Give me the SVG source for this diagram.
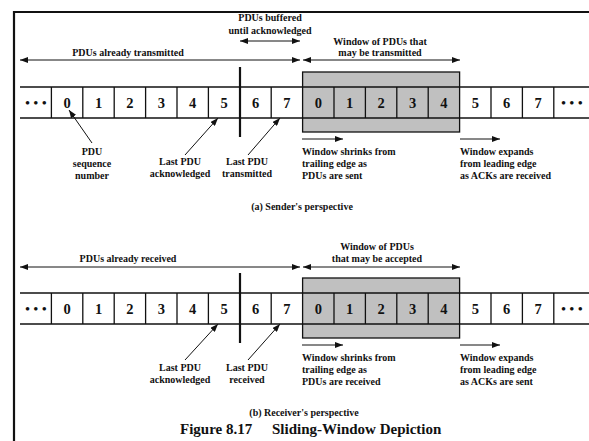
<svg xmlns="http://www.w3.org/2000/svg" width="589" height="441" viewBox="0 0 589 441">
<style>
text{font-family:"Liberation Serif","Times New Roman",serif;font-weight:bold;fill:#111}
.lbl{font-size:10px}
.cap{font-size:10px}
.dig{font-size:14.5px;text-anchor:middle}
.dots{font-size:13px;letter-spacing:0.3px;text-anchor:middle}
.mid{text-anchor:middle}
.ttl{font-size:15px}
.ln{stroke:#111;stroke-width:1.3;fill:none}
.thick{stroke:#111;stroke-width:2.2}
.win{fill:#c0c0c0;stroke:#111;stroke-width:1.3}
.arr{stroke:#111;stroke-width:1;fill:none;marker-end:url(#ah)}
.darr{stroke:#111;stroke-width:1;fill:none;marker-end:url(#ah);marker-start:url(#ah)}
</style>
<defs>
<marker id="ah" viewBox="0 0 8 6" refX="8" refY="3" markerWidth="8" markerHeight="6" markerUnits="userSpaceOnUse" orient="auto-start-reverse">
<path d="M0,0 L8,3 L0,6 z" fill="#111"/>
</marker>
<g id="strip">
<rect class="win" x="302.6" y="-15" width="157" height="60"/>
<line class="ln" x1="20" y1="0" x2="589" y2="0"/>
<line class="ln" x1="20" y1="31" x2="589" y2="31"/>
<path class="ln" d="M51.4,0V31M82.8,0V31M114.2,0V31M145.6,0V31M177,0V31M208.4,0V31M271.2,0V31M334,0V31M365.4,0V31M396.8,0V31M428.2,0V31M491,0V31M522.4,0V31M553.8,0V31"/>
<line class="thick" x1="240" y1="-20" x2="240" y2="50"/>
<text class="dots" x="36" y="20">• • •</text>
<text class="dig" x="67.1" y="20.5">0</text>
<text class="dig" x="98.5" y="20.5">1</text>
<text class="dig" x="129.9" y="20.5">2</text>
<text class="dig" x="161.3" y="20.5">3</text>
<text class="dig" x="192.7" y="20.5">4</text>
<text class="dig" x="224.1" y="20.5">5</text>
<text class="dig" x="255.5" y="20.5">6</text>
<text class="dig" x="286.9" y="20.5">7</text>
<text class="dig" x="318.3" y="20.5">0</text>
<text class="dig" x="349.7" y="20.5">1</text>
<text class="dig" x="381.1" y="20.5">2</text>
<text class="dig" x="412.5" y="20.5">3</text>
<text class="dig" x="443.9" y="20.5">4</text>
<text class="dig" x="475.3" y="20.5">5</text>
<text class="dig" x="506.7" y="20.5">6</text>
<text class="dig" x="538.1" y="20.5">7</text>
<text class="dots" x="572" y="20">• • •</text>
</g>
</defs>
<rect x="0" y="0" width="589" height="441" fill="#fff"/>
<path d="M14,441V12H589" fill="none" stroke="#111" stroke-width="2.2"/>

<g id="sender">
<use href="#strip" x="0" y="87"/>
<g id="s-already">
<text class="lbl mid" x="128" y="56">PDUs already transmitted</text>
</g>
<g id="s-buffered">
<text class="lbl mid" x="270" y="21">PDUs buffered</text>
<text class="lbl mid" x="270" y="34">until acknowledged</text>
</g>
<g id="s-window">
<text class="lbl mid" x="380" y="45">Window of PDUs that</text>
<text class="lbl mid" x="380" y="56">may be transmitted</text>
</g>
<g id="s-seq">
<text class="lbl mid" x="92" y="155">PDU</text>
<text class="lbl mid" x="92" y="167">sequence</text>
<text class="lbl mid" x="92" y="179">number</text>
</g>
<g id="s-lastack">
<text class="lbl mid" x="180" y="165">Last PDU</text>
<text class="lbl mid" x="180" y="177">acknowledged</text>
</g>
<g id="s-lasttx">
<text class="lbl mid" x="247" y="165">Last PDU</text>
<text class="lbl mid" x="247" y="177">transmitted</text>
</g>
<g id="s-shrink">
<text class="lbl" x="302" y="155">Window shrinks from</text>
<text class="lbl" x="302" y="167">trailing edge as</text>
<text class="lbl" x="302" y="179">PDUs are sent</text>
</g>
<g id="s-expand">
<text class="lbl" x="460" y="155">Window expands</text>
<text class="lbl" x="460" y="167">from leading edge</text>
<text class="lbl" x="460" y="179">as ACKs are received</text>
</g>
<text class="cap mid" x="302" y="210">(a) Sender's perspective</text>
</g>

<g id="receiver">
<use href="#strip" x="0" y="293"/>
<g id="r-already">
<text class="lbl mid" x="128" y="262">PDUs already received</text>
</g>
<g id="r-window">
<text class="lbl mid" x="377" y="250">Window of PDUs</text>
<text class="lbl mid" x="377" y="262">that may be accepted</text>
</g>
<g id="r-lastack">
<text class="lbl mid" x="180" y="371">Last PDU</text>
<text class="lbl mid" x="180" y="383">acknowledged</text>
</g>
<g id="r-lastrx">
<text class="lbl mid" x="247" y="371">Last PDU</text>
<text class="lbl mid" x="247" y="383">received</text>
</g>
<g id="r-shrink">
<text class="lbl" x="302" y="361">Window shrinks from</text>
<text class="lbl" x="302" y="373">trailing edge as</text>
<text class="lbl" x="302" y="385">PDUs are received</text>
</g>
<g id="r-expand">
<text class="lbl" x="460" y="361">Window expands</text>
<text class="lbl" x="460" y="373">from leading edge</text>
<text class="lbl" x="460" y="385">as ACKs are sent</text>
</g>
<text class="cap mid" x="304" y="416">(b) Receiver's perspective</text>
</g>

<g id="connectors">
<line class="darr" x1="20" y1="60" x2="300" y2="60"/>
<line class="darr" x1="240" y1="41" x2="300" y2="41"/>
<line class="darr" x1="303" y1="60" x2="460" y2="60"/>
<line class="arr" x1="92" y1="143" x2="69" y2="110"/>
<line class="arr" x1="185" y1="155" x2="218" y2="118"/>
<line class="arr" x1="248" y1="155" x2="280" y2="118"/>
<line class="arr" x1="302" y1="139" x2="343" y2="139"/>
<line class="arr" x1="460" y1="139" x2="500" y2="139"/>
<line class="darr" x1="20" y1="267" x2="300" y2="267"/>
<line class="darr" x1="303" y1="267" x2="460" y2="267"/>
<line class="arr" x1="185" y1="360" x2="218" y2="324"/>
<line class="arr" x1="248" y1="360" x2="280" y2="324"/>
<line class="arr" x1="302" y1="345" x2="343" y2="345"/>
<line class="arr" x1="460" y1="345" x2="500" y2="345"/>
</g>
<g id="title">
<text class="ttl" x="180" y="434">Figure 8.17</text>
<text class="ttl" x="272" y="434">Sliding-Window Depiction</text>
</g>
</svg>
